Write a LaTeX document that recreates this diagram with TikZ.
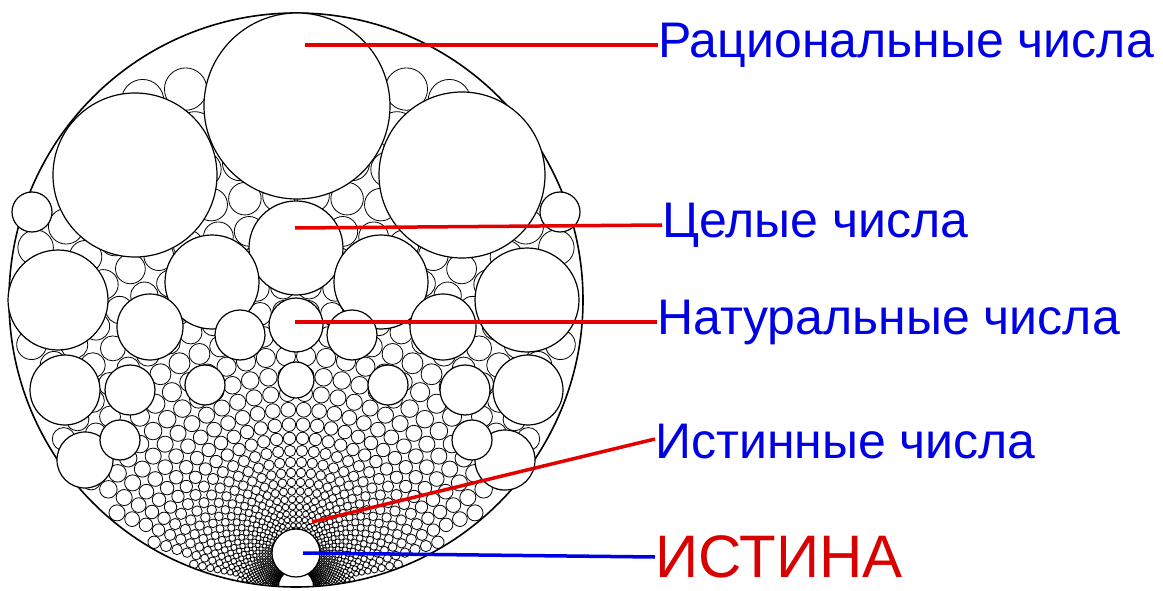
\documentclass[tikz,border=0pt]{standalone}
\usepackage{fontspec}
\setmainfont{Liberation Sans}
\begin{document}
\begin{tikzpicture}[x=1pt,y=-1pt,
  big/.style={draw=black,fill=white,line width=1.2pt},
  sml/.style={draw=black,line width=0.8pt},
  lbl/.style={anchor=west,inner sep=0pt,text=blue!90!black,font=\fontsize{50}{54}\selectfont},
  rline/.style={draw=red!90!black,line width=3.5pt},
  bline/.style={draw=blue!90!black,line width=3.5pt}]
\useasboundingbox (0,0) rectangle (1163,591);
\fill[white] (0,0) rectangle (1163,591);
% background log-polar packing
\begin{scope}
\clip (296,300) circle (287);
\foreach \j in {0,...,40}{
  \foreach \a in {2.5,7.5,...,177.5}{
    \pgfmathsetmacro\d{18*1.092^\j}
    \pgfmathsetmacro\cx{296+\d*cos(\a)}
    \pgfmathsetmacro\cy{587-\d*sin(\a)}
    \pgfmathsetmacro\rr{\d*0.0415}
    \pgfmathparse{(veclen(\cx-296,\cy-300)+\rr<=288)?1:0}
    \ifnum\pgfmathresult=1
      \draw[sml] (\cx,\cy) circle (\rr);
    \fi
  }
}
\end{scope}
\draw[line width=1.6pt] (296,300) circle (287);
% large circles
\foreach \x/\y/\r in {297/106/93, 135/175/82, 462/175/83, 296/248/47,
  58/300/50, 527/300/52, 212/282/47, 381/282/47, 296/325/27,
  150/327/33, 443/327/33, 240/335/25, 352/335/25, 65/390/35, 528/390/35,
  505/460/30, 85/460/28, 130/390/25, 465/390/25, 296/553/24,
  32/212/20, 560/212/20, 205/385/20, 388/385/20, 296/380/18,
  120/440/20, 472/440/20}
  \draw[big] (\x,\y) circle (\r);
% labels
\node[lbl] (rat) at (658,45) {Рациональные числа};
\node[lbl] (cel) at (662,225) {Целые числа};
\node[lbl] (nat) at (657,322) {Натуральные числа};
\node[lbl] (ist) at (655,442) {Истинные числа};
\node[lbl,text=red!85!black,font=\fontsize{60}{64}\selectfont] (tru) at (655,557) {ИСТИНА};
\coordinate (p1) at (305,45);
\coordinate (p2) at (295,228);
\coordinate (p3) at (295,322);
\coordinate (p4) at (312,522);
\coordinate (p5) at (303,553);
\draw[rline] (p1) -- (rat.west);
\draw[rline] (p2) -- (cel.west);
\draw[rline] (p3) -- (nat.west);
\draw[rline] (p4) -- ([yshift=3pt]ist.west);
\draw[bline] (p5) -- (tru.west);
\end{tikzpicture}
\end{document}
